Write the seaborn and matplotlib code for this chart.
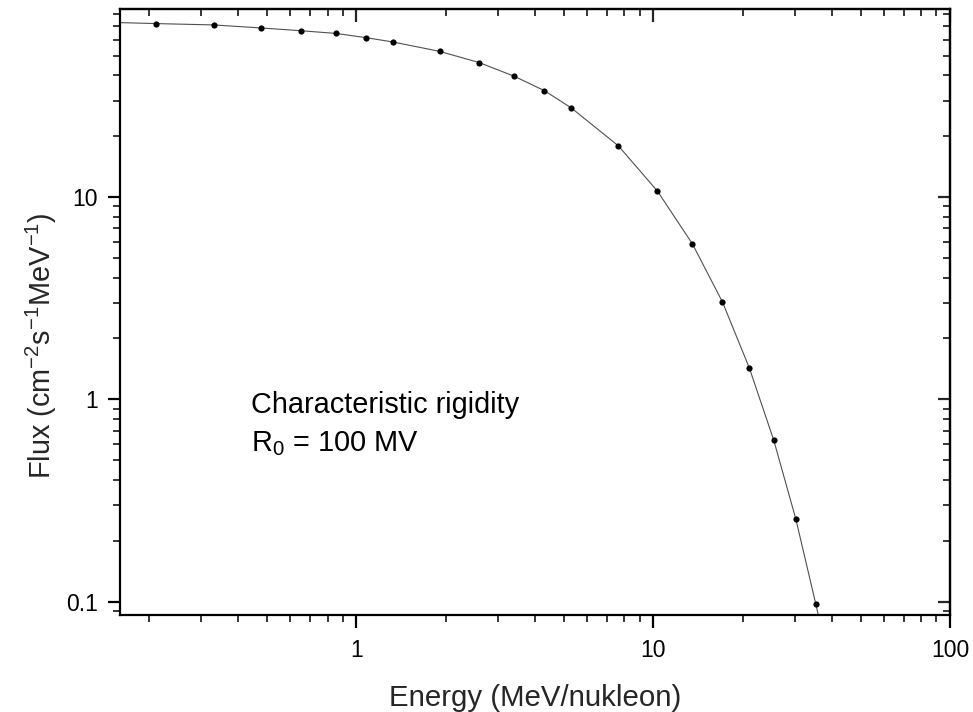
import matplotlib
matplotlib.use("Agg")
import matplotlib.pyplot as plt
import seaborn as sns
import pandas as pd
from matplotlib.ticker import LogLocator, NullFormatter, FixedLocator, FixedFormatter

# data
energy = [0.212, 0.331, 0.478, 0.649, 0.852, 1.075, 1.329, 1.908, 2.595, 3.396,
          4.296, 5.296, 7.64, 10.34, 13.56, 17.12, 21.09, 25.49, 30.23, 35.30]
flux = [72.0, 70.9, 68.5, 66.4, 64.4, 61.4, 58.4, 52.5, 46.2, 39.6,
        33.6, 27.6, 17.9, 10.7, 5.87, 3.03, 1.43, 0.628, 0.257, 0.0977]
# curve continues slightly beyond the measured points
curve_energy = [0.16] + energy + [36.0]
curve_flux = [72.8] + flux + [0.086]

x_ticks = [1, 10, 100]
x_tick_labels = ["1", "10", "100"]
y_ticks = [0.1, 1, 10]
y_tick_labels = ["0.1", "1", "10"]

sns.set_style("ticks")
plt.rcParams['font.family'] = ['Liberation Sans', 'DejaVu Sans']
plt.rcParams['mathtext.fontset'] = 'custom'
plt.rcParams['mathtext.rm'] = 'Liberation Sans'
plt.rcParams['mathtext.it'] = 'Liberation Sans'

BIG = 20.8

fig = plt.figure(figsize=(9.73, 7.12), dpi=100)
ax = fig.add_axes([120/973, 1-615/712, (950-120)/973, (615-9)/712])

df_curve = pd.DataFrame({"E": curve_energy, "F": curve_flux})
df_pts = pd.DataFrame({"E": energy, "F": flux})
sns.lineplot(data=df_curve, x="E", y="F", ax=ax, color="#505050", linewidth=0.8,
             sort=False, estimator=None)
sns.scatterplot(data=df_pts, x="E", y="F", ax=ax, color="black", s=20,
                edgecolor="black", linewidth=0, zorder=3)

ax.set_xscale("log")
ax.set_yscale("log")
ax.set_xlim(0.16, 100)
ax.set_ylim(0.086, 85)

ax.xaxis.set_major_locator(FixedLocator(x_ticks))
ax.xaxis.set_major_formatter(FixedFormatter(x_tick_labels))
ax.yaxis.set_major_locator(FixedLocator(y_ticks))
ax.yaxis.set_major_formatter(FixedFormatter(y_tick_labels))
ax.xaxis.set_minor_locator(LogLocator(base=10, subs=range(2, 10)))
ax.yaxis.set_minor_locator(LogLocator(base=10, subs=range(2, 10)))
ax.xaxis.set_minor_formatter(NullFormatter())
ax.yaxis.set_minor_formatter(NullFormatter())

ax.tick_params(which="major", direction="out", length=9, width=1.6, labelsize=16.5,
               colors="black")
ax.tick_params(axis="x", which="major", pad=8)
ax.tick_params(axis="y", which="major", pad=7)
ax.tick_params(which="minor", direction="out", length=5, width=1.3)
for s in ax.spines.values():
    s.set_linewidth(1.6)
    s.set_color("black")
    s.set_visible(True)

# inward ticks on top and right
secx = ax.secondary_xaxis("top")
secx.xaxis.set_major_locator(FixedLocator(x_ticks))
secx.xaxis.set_minor_locator(LogLocator(base=10, subs=range(2, 10)))
secx.tick_params(which="major", direction="in", length=9, width=1.6, labeltop=False)
secx.tick_params(which="minor", direction="in", length=5, width=1.3)
secx.spines["top"].set_linewidth(1.6)
secy = ax.secondary_yaxis("right")
secy.yaxis.set_major_locator(FixedLocator(y_ticks))
secy.yaxis.set_minor_locator(LogLocator(base=10, subs=range(2, 10)))
secy.tick_params(which="major", direction="in", length=9, width=1.6, labelright=False)
secy.tick_params(which="minor", direction="in", length=5, width=1.3)
secy.spines["right"].set_linewidth(1.6)

ax.set_xlabel("Energy (MeV/nukleon)", fontsize=BIG + 0.4, labelpad=16)
ax.set_ylabel(r"Flux (cm$^{-2}$s$^{-1}$MeV$^{-1}$)", fontsize=BIG)
ax.yaxis.set_label_coords(-0.073, 0.445)

ax.text(0.158, 0.333, "Characteristic rigidity", transform=ax.transAxes,
        fontsize=BIG, color="black", va="baseline")
ax.text(0.158, 0.270, r"R$_0$ = 100 MV", transform=ax.transAxes,
        fontsize=BIG, color="black", va="baseline")

fig.savefig("out.png", dpi=100)
